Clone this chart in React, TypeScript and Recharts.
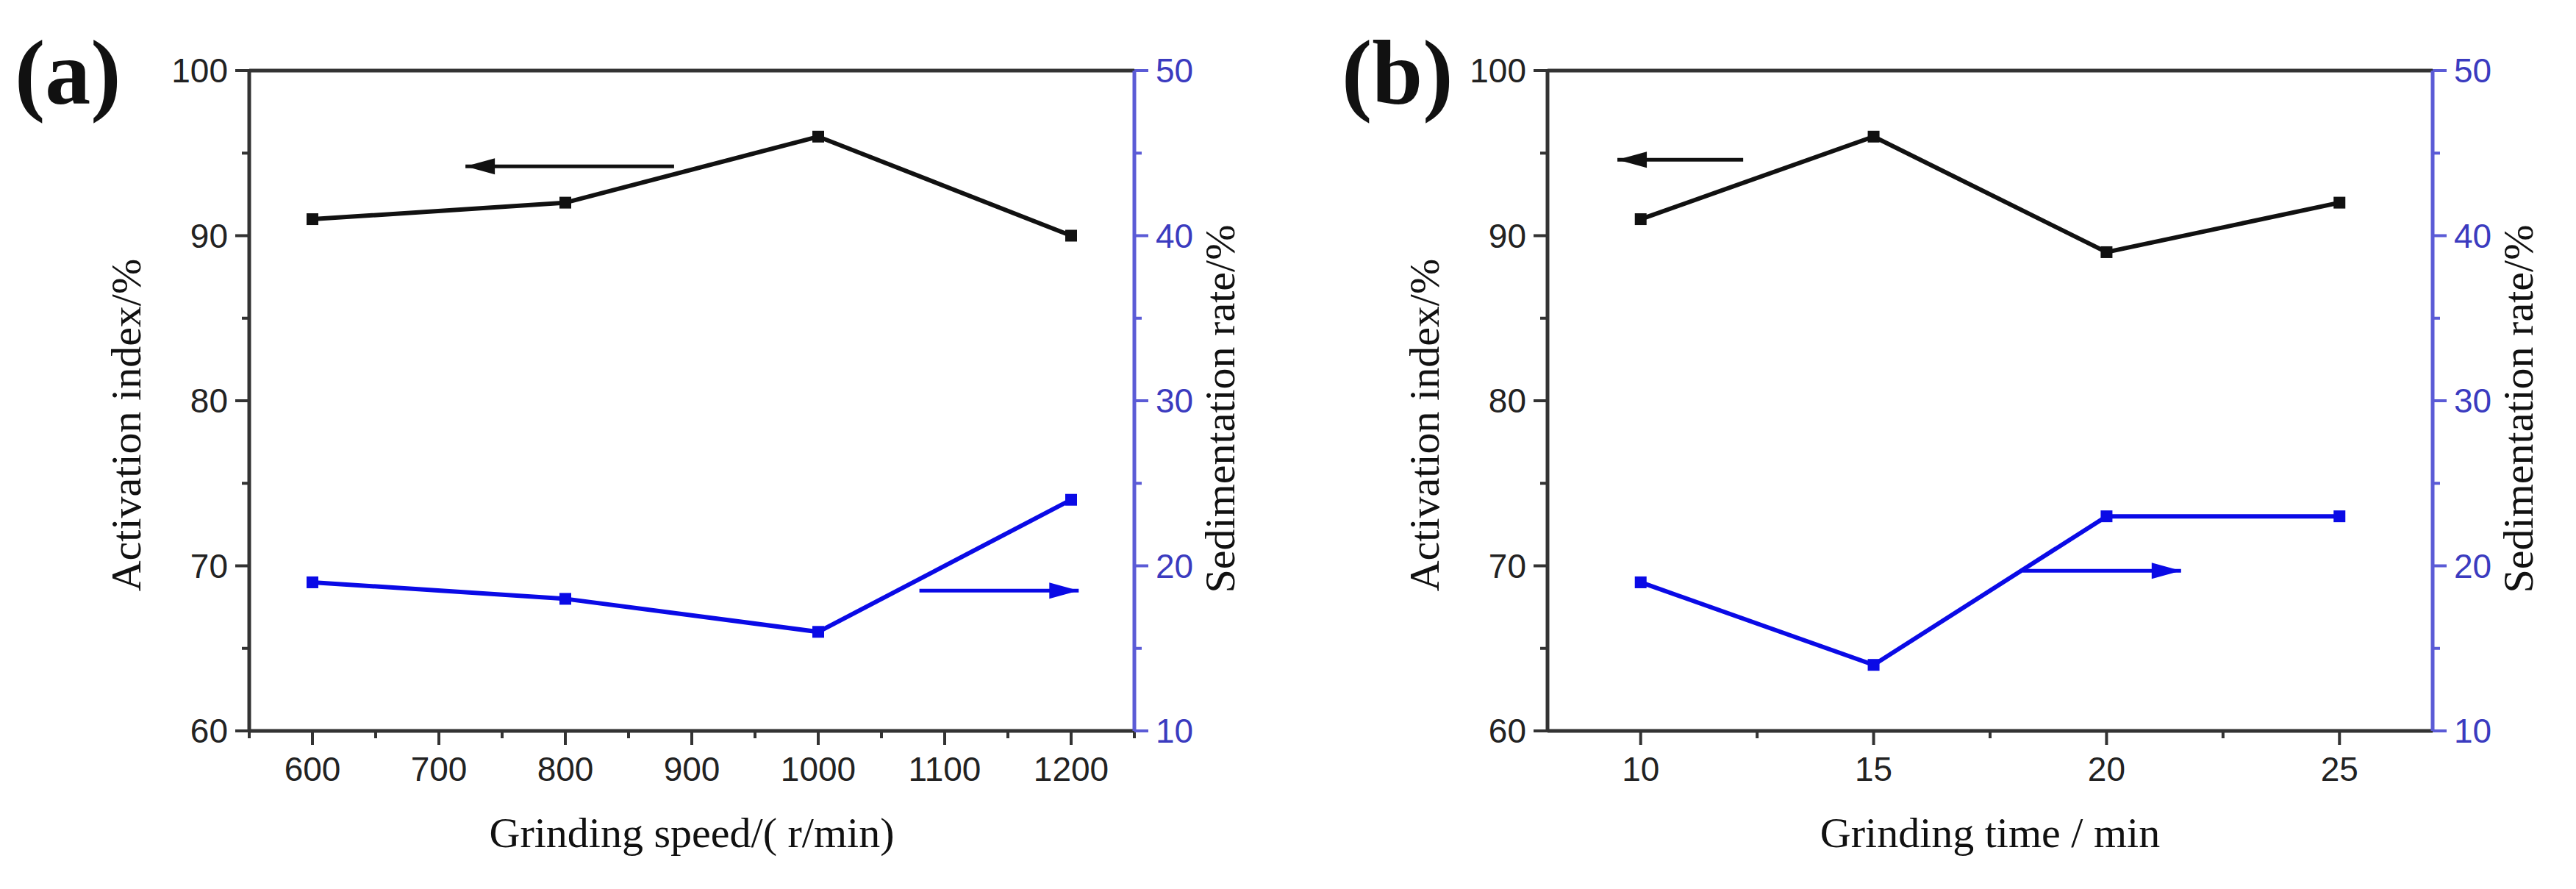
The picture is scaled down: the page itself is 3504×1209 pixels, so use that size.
import { LineChart, Line, XAxis, YAxis, ReferenceLine } from 'recharts'

// (a) grinding speed series
const speeds = [600, 800, 1000, 1200]
const speedActivation = [91, 92, 96, 90]
const speedSedimentation = [19, 18, 16, 24]

// (b) grinding time series
const times = [10, 15, 20, 25]
const timeActivation = [91, 96, 89, 92]
const timeSedimentation = [19, 14, 23, 23]

// axis ticks
const speedTicks = [550, 600, 650, 700, 750, 800, 850, 900, 950, 1000, 1050, 1100, 1150, 1200, 1250]
const speedMajor = [600, 700, 800, 900, 1000, 1100, 1200]
const timeTicks = [10, 12.5, 15, 17.5, 20, 22.5, 25]
const timeMajor = [10, 15, 20, 25]
const leftTicks = [60, 65, 70, 75, 80, 85, 90, 95, 100]
const leftMajor = [60, 70, 80, 90, 100]
const rightTicks = [10, 15, 20, 25, 30, 35, 40, 45, 50]
const rightMajor = [10, 20, 30, 40, 50]

// arrow annotations (x value, y value), tip is the second point
const speedArrowLeft = [{ x: 886, v: 94.2 }, { x: 721, v: 94.2 }]
const speedArrowRight = [{ x: 1080, v: 18.5 }, { x: 1206, v: 18.5 }]
const timeArrowLeft = [{ x: 12.2, v: 94.6 }, { x: 9.5, v: 94.6 }]
const timeArrowRight = [{ x: 18.2, v: 19.7 }, { x: 21.6, v: 19.7 }]

const BLACK = '#111'
const AXIS = '#333'
const BLUE = '#0a0ae6'
const BLUE_AXIS = '#5b5bd6'
const BLUE_TEXT = '#3b3bbf'
const SANS = '"Liberation Sans", Arial, sans-serif'
const SERIF = '"Liberation Serif", "Times New Roman", serif'

const H = 1209
const TOP = 96
const BOTTOM = 994

function makeRows(xs: number[], act: number[], sed: number[]) {
  return xs.map((x, i) => ({ x, act: act[i], sed: sed[i] }))
}

const squareDot = (color: string) => (p: any) => (
  <rect key={p.index} x={p.cx - 8} y={p.cy - 8} width={16} height={16} fill={color} />
)

const arrowHead = (color: string, dir: number) => (p: any) => {
  if (p.index !== 1) return <g key={p.index} />
  const bx = p.cx - dir * 40
  return (
    <polygon
      key={p.index}
      points={`${p.cx},${p.cy} ${bx},${p.cy - 11} ${bx},${p.cy + 11}`}
      fill={color}
    />
  )
}

const xTick = (major: number[]) => (p: any) => {
  const v = p.payload.value
  const isMajor = major.includes(v)
  return (
    <g>
      <line x1={p.x} y1={p.y} x2={p.x} y2={p.y + (isMajor ? 19 : 10)} stroke={AXIS} strokeWidth={4} />
      {isMajor && (
        <text x={p.x} y={p.y + 68} textAnchor="middle" fontFamily={SANS} fontSize={46} fill="#222">
          {v}
        </text>
      )}
    </g>
  )
}

const yTick = (major: number[], side: 'left' | 'right') => (p: any) => {
  const v = p.payload.value
  const isMajor = major.includes(v)
  const d = side === 'left' ? -1 : 1
  const color = side === 'left' ? AXIS : BLUE_AXIS
  return (
    <g>
      <line x1={p.x} y1={p.y} x2={p.x + d * (isMajor ? 19 : 10)} y2={p.y} stroke={color} strokeWidth={4} />
      {isMajor && (
        <text
          x={p.x + d * 29}
          y={p.y + 16}
          textAnchor={side === 'left' ? 'end' : 'start'}
          fontFamily={SANS}
          fontSize={46}
          fill={side === 'left' ? '#222' : BLUE_TEXT}
        >
          {v}
        </text>
      )}
    </g>
  )
}

type PanelProps = {
  letter: string
  letterX: number
  offsetX: number
  width: number
  plotLeft: number
  plotRight: number
  rows: { x: number; act: number; sed: number }[]
  xDomain: [number, number]
  xTicks: number[]
  xMajor: number[]
  xTitle: string
  arrowLeft: { x: number; v: number }[]
  arrowRight: { x: number; v: number }[]
}

function Panel(props: PanelProps) {
  const { plotLeft, plotRight, width } = props
  const yAxisW = 100
  const xAxisH = 80
  const margin = {
    top: TOP,
    left: plotLeft - yAxisW,
    right: width - plotRight - yAxisW,
    bottom: H - BOTTOM - xAxisH,
  }
  const midX = (plotLeft + plotRight) / 2
  return (
    <div style={{ position: 'absolute', left: props.offsetX, top: 0, width, height: H }}>
      <LineChart width={width} height={H} margin={margin}>
        <XAxis
          dataKey="x"
          type="number"
          domain={props.xDomain}
          allowDataOverflow
          ticks={props.xTicks}
          interval={0}
          height={xAxisH}
          tickSize={0}
          tickMargin={0}
          tickLine={false}
          tick={xTick(props.xMajor)}
          axisLine={{ stroke: AXIS, strokeWidth: 5 }}
        />
        <YAxis
          yAxisId="left"
          domain={[60, 100]}
          allowDataOverflow
          ticks={leftTicks}
          interval={0}
          width={yAxisW}
          tickSize={0}
          tickMargin={0}
          tickLine={false}
          tick={yTick(leftMajor, 'left')}
          axisLine={{ stroke: AXIS, strokeWidth: 5 }}
        />
        <YAxis
          yAxisId="right"
          orientation="right"
          domain={[10, 50]}
          allowDataOverflow
          ticks={rightTicks}
          interval={0}
          width={yAxisW}
          tickSize={0}
          tickMargin={0}
          tickLine={false}
          tick={yTick(rightMajor, 'right')}
          axisLine={{ stroke: BLUE_AXIS, strokeWidth: 5 }}
        />
        <ReferenceLine yAxisId="left" y={100} stroke={AXIS} strokeWidth={5} />
        <Line
          yAxisId="left"
          data={props.rows}
          dataKey="act"
          type="linear"
          stroke={BLACK}
          strokeWidth={6}
          dot={squareDot(BLACK)}
          activeDot={false}
          isAnimationActive={false}
        />
        <Line
          yAxisId="right"
          data={props.rows}
          dataKey="sed"
          type="linear"
          stroke={BLUE}
          strokeWidth={6}
          dot={squareDot(BLUE)}
          activeDot={false}
          isAnimationActive={false}
        />
        <Line
          yAxisId="left"
          data={props.arrowLeft}
          dataKey="v"
          type="linear"
          stroke={BLACK}
          strokeWidth={5}
          dot={arrowHead(BLACK, -1)}
          activeDot={false}
          isAnimationActive={false}
        />
        <Line
          yAxisId="right"
          data={props.arrowRight}
          dataKey="v"
          type="linear"
          stroke={BLUE}
          strokeWidth={5}
          dot={arrowHead(BLUE, 1)}
          activeDot={false}
          isAnimationActive={false}
        />
      </LineChart>

      <div
        style={{
          position: 'absolute',
          left: props.letterX,
          top: 38,
          fontFamily: SERIF,
          fontWeight: 'bold',
          fontSize: 124,
          lineHeight: 1,
          color: '#111',
          whiteSpace: 'nowrap',
        }}
      >
        {props.letter}
      </div>
      <div
        style={{
          position: 'absolute',
          left: plotLeft - 167,
          top: 578,
          transform: 'translate(-50%, -50%) rotate(-90deg)',
          fontFamily: SERIF,
          fontSize: 58,
          lineHeight: 1,
          color: '#111',
          whiteSpace: 'nowrap',
        }}
      >
        Activation index/%
      </div>
      <div
        style={{
          position: 'absolute',
          left: plotRight + 117,
          top: 556,
          transform: 'translate(-50%, -50%) rotate(-90deg)',
          fontFamily: SERIF,
          fontSize: 58,
          lineHeight: 1,
          color: '#111',
          whiteSpace: 'nowrap',
        }}
      >
        Sedimentation rate/%
      </div>
      <div
        style={{
          position: 'absolute',
          left: midX,
          top: 1104,
          transform: 'translateX(-50%)',
          fontFamily: SERIF,
          fontSize: 58,
          lineHeight: 1,
          color: '#111',
          whiteSpace: 'nowrap',
        }}
      >
        {props.xTitle}
      </div>
    </div>
  )
}

export default function App() {
  return (
    <div style={{ position: 'absolute', left: 0, top: 0, width: 3504, height: H, background: '#fff' }}>
      <Panel
        letter="(a)"
        letterX={20}
        offsetX={0}
        width={1750}
        plotLeft={339}
        plotRight={1543}
        rows={makeRows(speeds, speedActivation, speedSedimentation)}
        xDomain={[550, 1250]}
        xTicks={speedTicks}
        xMajor={speedMajor}
        xTitle="Grinding speed/( r/min)"
        arrowLeft={speedArrowLeft}
        arrowRight={speedArrowRight}
      />
      <Panel
        letter="(b)"
        letterX={75}
        offsetX={1750}
        width={1754}
        plotLeft={355}
        plotRight={1559}
        rows={makeRows(times, timeActivation, timeSedimentation)}
        xDomain={[8, 27]}
        xTicks={timeTicks}
        xMajor={timeMajor}
        xTitle="Grinding time / min"
        arrowLeft={timeArrowLeft}
        arrowRight={timeArrowRight}
      />
    </div>
  )
}
